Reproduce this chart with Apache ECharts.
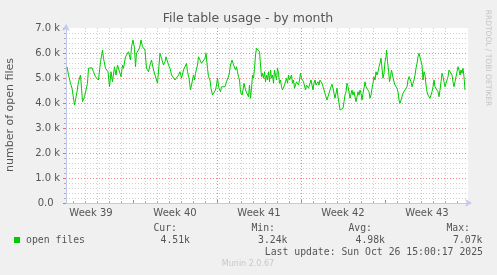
<!DOCTYPE html>
<html><head><meta charset="utf-8">
<script src="https://cdn.jsdelivr.net/npm/echarts@6/dist/echarts.min.js"></script>
<style>html,body{margin:0;padding:0;background:#f0f0f0}#c{width:497px;height:275px}</style>
</head><body><div id="c"></div>
<script>
// ---------------- data ----------------
const chartTitle = 'File table usage - by month';
const yAxisTitle = 'number of open files';
const weekLabels = ['Week 39', 'Week 40', 'Week 41', 'Week 42', 'Week 43'];
const yTickLabels = ['0.0', '1.0 k', '2.0 k', '3.0 k', '4.0 k', '5.0 k', '6.0 k', '7.0 k'];
// time of each sample, hours since Mon 22 Sep 2025 00:00
const hoursSinceSep22 = [
  36,39,43,46,51,56,59,63,65,67,71,74,77,79,83,86,89,93,96,99,
  103,107,109,113,115,118,121,124,127,131,134,137,141,144,147,149,153,156,159,163,
  165,168,171,173,175,178,181,184,187,191,
  192,195,199,202,205,209,212,215,217,222,225,229,232,234,237,239,242,245,249,252,
  255,259,262,265,269,272,275,277,280,283,285,289,291,293,297,299,302,305,309,312,
  314,317,319,322,324,327,330,333,335,337,340,343,345,349,352,355,359,
  360,363,366,368,370,373,375,377,379,381,383,386,388,390,393,395,397,399,401,403,
  405,407,409,411,413,415,417,419,421,423,425,427,429,431,433,435,437,439,441,443,
  445,447,449,451,453,455,457,459,461,463,465,467,469,471,473,475,477,479,481,483,
  485,487,489,491,493,495,497,499,501,503,505,507,509,511,513,515,517,519,521,523,
  524,526,528,530,532,534,536,538,540,542,544,546,548,550,552,554,556,558,560,562,
  564,566,568,570,572,574,576,578,580,582,584,586,588,590,592,594,596,598,600,602,
  604,606,608,610,612,614,616,618,620,622,624,626,628,630,632,634,636,638,640,642,
  644,646,648,650,652,654,656,658,660,662,664,666,668,670,672,674,675,677,679,681,
  683,685,687,689,
  690,692,694,696,698,700,702,704,706,708,710,712,714,716,718,720,722,724,726,728,
  730,732,734,736,738,740,742,744,746,748,750,752,754,756,758,760,762,764,766,768,
  770,772,774,776,778,780,782,784,786,788,790,792,794,796,798,800,802,804,806,808,
  810,812,814,816,818,820,822,824,826,828,830,832
];
// open files, thousands
const openFilesK = [
  5.45,5.12,4.79,4.59,3.92,4.45,4.85,5.12,4.59,4.05,4.25,4.19,4.79,5.39,5.32,5.41,5.25,5.05,4.99,4.92,
  5.65,6.12,5.79,5.39,5.45,5.25,4.65,5.25,4.85,5.45,5.12,5.52,5.45,5.05,5.52,5.39,5.85,5.79,6.05,5.72,
  6.25,6.52,6.19,5.45,5.99,6.05,6.19,6.52,6.25,6.19,
  6.12,5.39,5.25,5.52,5.72,5.32,5.12,5.19,4.79,5.99,5.79,5.52,5.65,5.85,5.85,5.52,5.39,5.12,5.19,4.92,
  4.85,5.12,5.25,4.99,5.32,5.39,5.59,5.25,4.99,4.52,4.72,5.12,4.92,5.19,5.52,5.85,5.92,5.59,5.52,5.79,
  5.99,5.39,5.05,4.92,4.59,4.32,4.39,4.52,4.72,4.99,4.59,4.45,4.65,4.72,4.65,4.85,4.92,
  5.12,5.52,5.72,5.59,5.65,5.32,5.45,5.25,5.05,4.92,4.45,4.32,4.52,4.79,4.52,4.45,4.59,4.25,4.72,4.19,
  4.59,5.12,4.99,5.39,5.92,6.19,6.12,6.25,6.05,5.52,5.05,5.19,4.99,5.25,4.85,5.12,4.92,5.25,4.85,5.32,
  4.99,5.12,4.79,5.32,5.12,4.92,5.39,5.19,4.79,4.92,4.65,4.52,4.45,4.72,4.79,4.99,4.79,5.12,4.92,4.99,
  5.12,4.79,4.92,4.59,4.72,4.85,4.92,4.72,4.92,5.19,4.99,5.05,4.85,4.79,4.52,4.72,4.79,4.59,4.65,4.52,
  4.92,4.72,4.52,4.79,4.92,4.72,4.79,4.85,4.72,4.92,4.99,4.79,4.65,4.52,4.39,4.25,4.12,4.19,4.39,4.52,
  4.65,4.75,4.59,4.39,4.19,4.39,4.59,4.25,3.99,3.72,3.68,3.68,3.79,4.05,4.32,4.45,4.79,4.65,4.45,4.19,
  4.25,4.52,4.32,4.45,4.39,4.05,4.25,4.45,4.32,4.52,4.39,4.12,4.39,4.59,4.85,4.65,4.65,4.59,4.45,4.19,
  4.32,4.59,4.79,5.05,4.92,5.25,5.12,5.25,5.45,5.59,5.79,5.39,4.99,5.19,5.65,5.85,6.12,5.65,5.32,4.85,
  5.05,5.32,5.12,4.92,
  4.85,4.72,4.79,4.59,4.45,4.12,3.99,4.12,4.25,4.39,4.32,4.52,4.45,4.65,4.92,5.05,4.99,4.85,4.65,4.79,
  4.92,5.12,5.39,5.59,5.85,5.99,6.05,5.92,5.52,4.92,5.25,5.12,4.72,4.45,4.32,4.25,4.19,4.25,4.45,4.65,
  4.92,4.65,4.59,4.65,4.45,4.25,4.52,4.85,5.19,5.05,4.85,4.65,4.72,4.92,5.05,5.32,5.39,5.25,5.12,4.85,
  4.65,4.85,5.05,5.25,5.45,5.32,5.12,5.32,5.19,5.39,5.05,4.52
];
const legendName = 'open files';
const statNames = ['Cur:', 'Min:', 'Avg:', 'Max:'];
const statValues = ['4.51k', '3.24k', '4.98k', '7.07k'];
const lastUpdate = 'Last update: Sun Oct 26 15:00:17 2025';
const footerText = 'Munin 2.0.67';
const sideText = 'RRDTOOL / TOBI OETIKER';

// ---------------- chart ----------------
const X_MIN = 34, X_MAX = 838;       // hours shown
const WEEK = 168, DAY = 24;
const n = Math.min(hoursSinceSep22.length, openFilesK.length);
const seriesData = [];
for (let i = 0; i < n; i++) seriesData.push([hoursSinceSep22[i], openFilesK[i]]);

// grid / tick positions (hours)
const dayLines = [], weekLines = [], weekMids = [];
for (let h = Math.ceil(X_MIN / DAY) * DAY; h < X_MAX; h += DAY) {
  if (h % WEEK === 0) weekLines.push(h); else dayLines.push(h);
}
for (let k = 0; k < weekLabels.length; k++) weekMids.push(WEEK * k + WEEK / 2);

const MINOR = '#cfcfcf', MAJOR = '#ee8a8a', AXIS = '#c4c8ee', TXT = '#555';
const PROP = '"DejaVu Sans", sans-serif', MONO = '"DejaVu Sans Mono", monospace';
const DOTS = [1, 2];

const chart = echarts.init(document.getElementById('c'), null, { renderer: 'canvas' });
chart.setOption({
  animation: false,
  backgroundColor: '#f0f0f0',
  grid: { left: 66, right: 29, top: 28, bottom: 72, show: true, backgroundColor: '#ffffff', borderWidth: 0 },
  xAxis: [
    { // day grid + ticks (data axis)
      type: 'value', min: X_MIN, max: X_MAX, position: 'bottom',
      axisLine: { show: false, onZero: false }, axisLabel: { show: false },
      axisTick: { show: true, inside: true, length: 2, customValues: dayLines, lineStyle: { color: '#b0b0b0' } },
      splitLine: { show: true, showMinLine: false, showMaxLine: false, lineStyle: { color: MINOR, width: 1, type: DOTS } }
    },
    { // week grid + ticks + axis line
      type: 'value', min: X_MIN, max: X_MAX, position: 'bottom',
      axisLine: { show: true, onZero: false, lineStyle: { color: AXIS, width: 1 }, symbol: ['none', 'arrow'], symbolSize: [6, 7], symbolOffset: [0, 4] },
      axisLabel: { show: false },
      axisTick: { show: true, inside: true, length: 3, customValues: weekLines, lineStyle: { color: '#e07070' } },
      splitLine: { show: true, showMinLine: false, showMaxLine: false, lineStyle: { color: MAJOR, width: 1, type: DOTS } }
    },
    { // week labels, centred in each week
      type: 'value', min: X_MIN, max: X_MAX, position: 'bottom',
      axisLine: { show: false, onZero: false }, axisTick: { show: false }, splitLine: { show: false },
      axisLabel: {
        show: true, customValues: weekMids, margin: 5, color: TXT, fontFamily: PROP, fontSize: 10,
        formatter: (v) => { const k = Math.round((v - WEEK / 2) / WEEK); return weekLabels[k] || ''; }
      }
    }
  ],
  yAxis: [
    { // minor grid every 0.2k
      type: 'value', min: 0, max: 7, interval: 0.2,
      axisLine: { show: false, onZero: false }, axisLabel: { show: false },
      axisTick: { show: true, length: 2, lineStyle: { color: '#b0b0b0' } },
      splitLine: { show: true, showMinLine: false, showMaxLine: false, lineStyle: { color: MINOR, width: 1, type: DOTS } }
    },
    { // major grid every 1k, labels, axis line
      type: 'value', min: 0, max: 7, interval: 1, position: 'left',
      axisLine: { show: true, onZero: false, lineStyle: { color: AXIS, width: 1 }, symbol: ['none', 'arrow'], symbolSize: [6, 7], symbolOffset: [0, 4] },
      axisTick: { show: true, length: 3, lineStyle: { color: '#e07070' } },
      axisLabel: {
        show: true, margin: 6, color: TXT, fontFamily: PROP, fontSize: 10,
        formatter: (v) => { const i = Math.round(v); return i === 0 ? yTickLabels[0] + '  ' : (yTickLabels[i] || ''); }
      },
      splitLine: { show: true, showMinLine: false, showMaxLine: false, lineStyle: { color: MAJOR, width: 1, type: DOTS } }
    }
  ],
  series: [
    {
      name: legendName, type: 'line', xAxisIndex: 0, yAxisIndex: 0,
      data: seriesData, showSymbol: false, symbol: 'none', smooth: false,
      lineStyle: { color: '#00cc00', width: 1 }, z: 5
    }
  ],
  graphic: [
    { type: 'text', x: 248, y: 19, style: { text: chartTitle, font: '12.5px ' + PROP, fill: TXT, align: 'center', verticalAlign: 'middle' } },
    { type: 'text', x: 10, y: 115, rotation: Math.PI / 2, style: { text: yAxisTitle, font: '11px ' + PROP, fill: TXT, align: 'center', verticalAlign: 'middle' } },
    { type: 'text', x: 488, y: 58, rotation: -Math.PI / 2, style: { text: sideText, font: '7.5px ' + PROP, fill: '#c4c4c4', align: 'center', verticalAlign: 'middle' } },
    { type: 'rect', shape: { x: 14, y: 237, width: 6, height: 6 }, style: { fill: '#00cc00' } },
    { type: 'text', x: 26, y: 240, style: { text: legendName, font: '9.8px ' + MONO, fill: TXT, align: 'left', verticalAlign: 'middle' } },
    ...statNames.map((s, i) => ({ type: 'text', x: [177, 275, 372, 470][i], y: 228, style: { text: s, font: '9.8px ' + MONO, fill: TXT, align: 'right', verticalAlign: 'middle' } })),
    ...statValues.map((s, i) => ({ type: 'text', x: [190, 287.5, 385, 482.5][i], y: 240, style: { text: s, font: '9.8px ' + MONO, fill: TXT, align: 'right', verticalAlign: 'middle' } })),
    { type: 'text', x: 483, y: 252, style: { text: lastUpdate, font: '9.8px ' + MONO, fill: TXT, align: 'right', verticalAlign: 'middle' } },
    { type: 'text', x: 248, y: 264, style: { text: footerText, font: '8px ' + PROP, fill: '#c8c8c8', align: 'center', verticalAlign: 'middle' } }
  ]
});
</script>
</body></html>
